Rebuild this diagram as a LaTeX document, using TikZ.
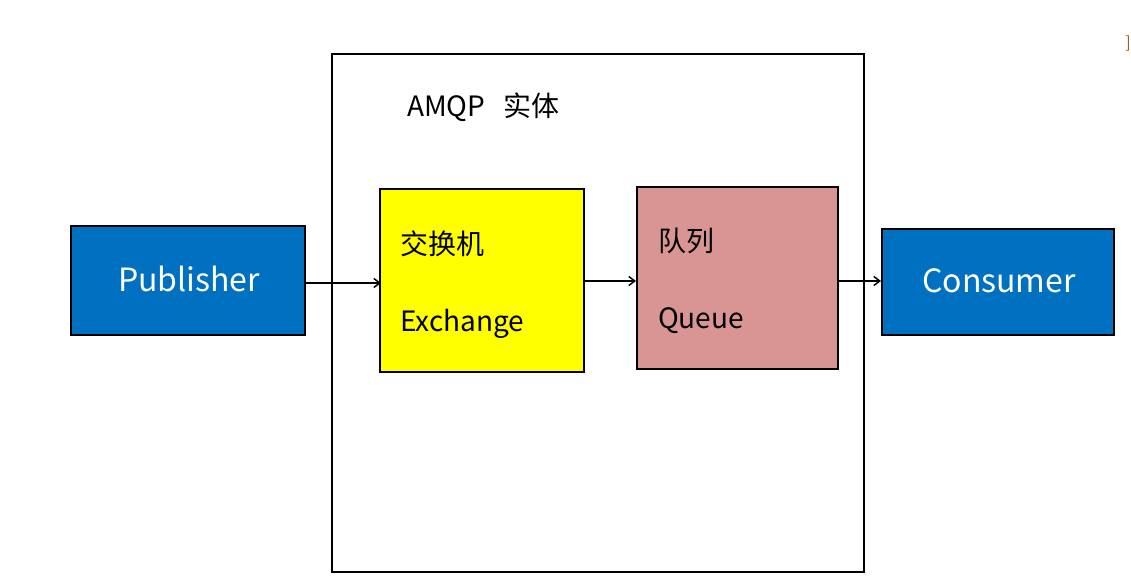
\documentclass[tikz,border=0pt]{standalone}
\usepackage{fontspec}
\setmainfont{Noto Sans CJK SC}
\usetikzlibrary{arrows.meta}
\definecolor{pubblue}{HTML}{0070C0}
\definecolor{queuepink}{HTML}{D99594}
\definecolor{exyellow}{HTML}{FFFF00}
\tikzset{
  box/.style={draw=black, line width=2pt},
  bluebox/.style={box, fill=pubblue},
  bluetext/.style={inner sep=0pt, text=white, font=\fontsize{32}{38}\selectfont},
  lbl/.style={anchor=west, inner sep=0pt, font=\fontsize{28}{33}\selectfont},
  conn/.style={line width=1.5pt, -{Straight Barb[length=6pt,width=9pt,line width=1.5pt]}},
}
\begin{document}
\begin{tikzpicture}[x=1pt,y=-1pt]
\useasboundingbox (0,0) rectangle (1131,580);
\fill[white] (0,0) rectangle (1131,580);
% AMQP entity frame
\draw[box] (332,54) rectangle (864,572);
\node[lbl] (amqp) at (407,107) {AMQP\hspace{18pt}实体};
% Publisher
\draw[bluebox] (71,226) rectangle (305,335);
\node[bluetext] (pub) at (189,279) {Publisher};
\coordinate (pubR) at (305,283);
% Exchange
\draw[box, fill=exyellow] (380,189) rectangle (584,372);
\coordinate (exL) at (381,283);
\coordinate (exR) at (584,281);
\node[lbl] (ex1) at (400,244) {交换机};
\node[lbl] (ex2) at (400,324) {Exchange};
% Queue
\draw[box, fill=queuepink] (637,187) rectangle (838,369);
\coordinate (quL) at (636,281);
\coordinate (quR) at (838,281);
\node[lbl] (qu1) at (658,241) {队列};
\node[lbl] (qu2) at (658,321) {Queue};
% Consumer
\draw[bluebox] (882,229) rectangle (1114,335);
\coordinate (coL) at (881,281);
\node[bluetext] (con) at (999,281) {Consumer};
% connectors
\draw[conn] (pubR) -- (exL);
\draw[conn] (exR) -- (quL);
\draw[conn] (quR) -- (coL);
% stray mark at top right
\node[inner sep=0pt, text={rgb,255:red,170;green,90;blue,20}, font=\fontsize{16}{18}\selectfont] (mark) at (1128,44) {]};
\end{tikzpicture}
\end{document}
